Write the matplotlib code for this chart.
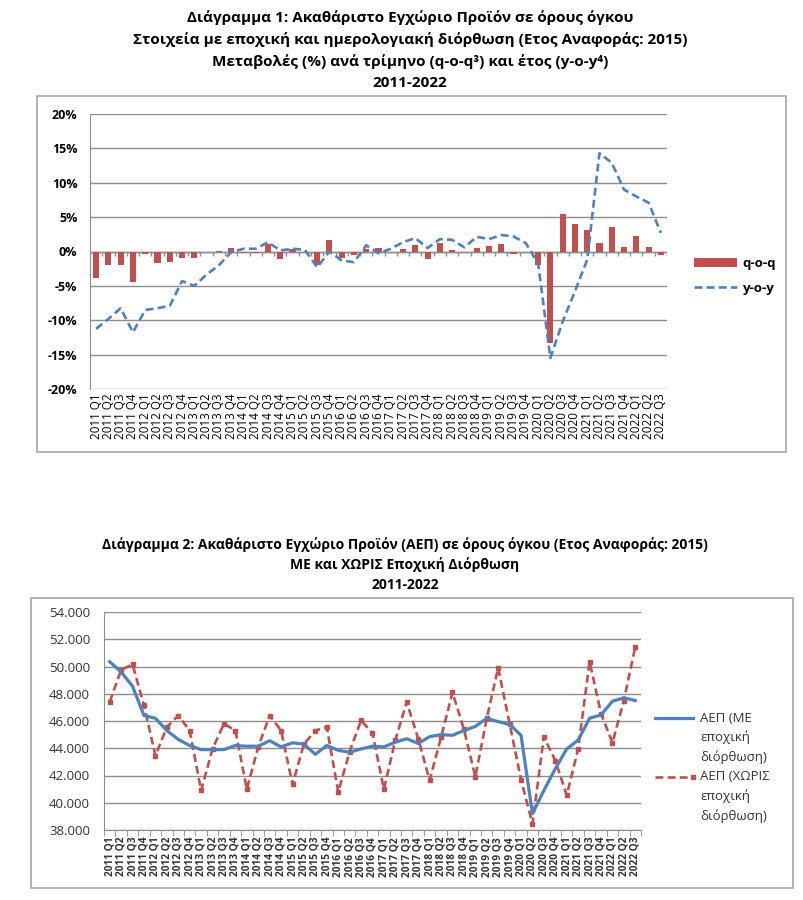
import matplotlib
matplotlib.use('Agg')
import matplotlib.pyplot as plt
from matplotlib.patches import Rectangle
from matplotlib.lines import Line2D
import numpy as np

plt.rcParams['font.family'] = ['Open Sans', 'DejaVu Sans']

# Τρίμηνα 2011 Q1 - 2022 Q3
quarters = [f'{y} Q{q}' for y in range(2011, 2023) for q in range(1, 5)][:47]

# Διάγραμμα 1: μεταβολές (%)
qoq = [-3.9, -1.9, -2.0, -4.5, -0.4, -1.7, -1.55, -0.9, -0.9, -0.1, 0.05, 0.5,
       -0.2, -0.2, 1.1, -1.1, 0.3, -0.1, -2.0, 1.7, -0.9, -0.5, 0.35, 0.55,
       -0.05, 0.35, 1.0, -1.1, 1.2, 0.15, -0.05, 0.55, 0.8, 1.1, -0.35, -0.1,
       -1.9, -13.25, 5.4, 4.0, 3.1, 1.3, 3.5, 0.6, 2.3, 0.6, -0.5]
yoy = [-11.25, -9.8, -8.25, -11.75, -8.5, -8.25, -7.9, -4.3, -5.0, -3.35, -2.0, -0.1,
       0.4, 0.4, 1.35, 0.15, 0.4, 0.25, -2.3, 0.0, -1.3, -1.55, 0.9, -0.25,
       0.4, 1.35, 1.95, 0.5, 1.8, 1.7, 0.6, 2.15, 1.8, 2.4, 2.2, 1.2,
       -1.7, -15.5, -10.2, -5.8, -1.2, 14.3, 12.9, 9.0, 8.0, 7.1, 2.7]

# Διάγραμμα 2: ΑΕΠ (σε χιλιάδες)
gdp_sa = [50.35, 49.6, 48.55, 46.4, 46.2, 45.3, 44.65, 44.2, 43.9, 43.9, 43.9, 44.2,
          44.15, 44.15, 44.55, 44.1, 44.4, 44.3, 43.55, 44.2, 43.85, 43.7, 43.95, 44.15,
          44.1, 44.45, 44.7, 44.35, 44.85, 45.0, 44.95, 45.3, 45.6, 46.2, 45.95, 45.75,
          44.95, 39.2, 40.9, 42.5, 43.95, 44.6, 46.2, 46.45, 47.45, 47.7, 47.5]
gdp_nsa = [47.4, 49.75, 50.15, 47.15, 43.45, 45.55, 46.4, 45.3, 40.9, 43.95, 45.8, 45.3,
           41.0, 44.1, 46.4, 45.3, 41.35, 44.3, 45.3, 45.55, 40.8, 43.75, 46.05, 45.1,
           41.0, 44.6, 47.4, 44.7, 41.65, 44.8, 48.1, 45.4, 41.9, 46.2, 49.9, 45.8,
           41.7, 38.45, 44.85, 43.1, 40.55, 43.95, 50.35, 46.55, 44.4, 47.5, 51.45]
legend2 = [['ΑΕΠ (ΜΕ', 'εποχική', 'διόρθωση)'], ['ΑΕΠ (ΧΩΡΙΣ', 'εποχική', 'διόρθωση)']]

red = '#C0504D'
blue = '#4F81BD'
grid = '#8C8C8C'
dash = (0, (3, 1.6))
x = np.arange(len(quarters))

fig = plt.figure(figsize=(8.04, 9.0), dpi=100)

def px(l, t, r, b):
    return [l / 804, 1 - b / 900, (r - l) / 804, (b - t) / 900]

# πλαίσια
for l, t, r, b in [(37, 96, 786, 452), (31, 598, 793, 888)]:
    fig.patches.append(Rectangle((l / 804, 1 - b / 900), (r - l) / 804, (b - t) / 900,
                                 transform=fig.transFigure, fill=False,
                                 edgecolor='#A6A6A6', linewidth=1.2))

# ---------- Διάγραμμα 1 ----------
titles1 = ['Διάγραμμα 1: Ακαθάριστο Εγχώριο Προϊόν σε όρους όγκου',
           'Στοιχεία με εποχική και ημερολογιακή διόρθωση (Ετος Αναφοράς: 2015)',
           'Μεταβολές (%) ανά τρίμηνο (q-o-q³) και έτος (y-o-y⁴)',
           '2011-2022']
for i, s in enumerate(titles1):
    fig.text(410 / 804, 1 - (18 + 21.7 * i) / 900, s, ha='center', va='center',
             fontsize=11, fontweight='bold')

ax1 = fig.add_axes(px(90, 114, 667, 389))
bars = ax1.bar(x, qoq, width=0.5, color=red, label='q-o-q', zorder=3)
line, = ax1.plot(x, yoy, color=blue, linestyle=dash, linewidth=1.9, label='y-o-y', zorder=4)
ax1.set_xlim(-0.5, len(x) - 0.5)
ax1.set_ylim(-20, 20)
ax1.set_yticks(np.arange(-20, 21, 5))
ax1.set_yticklabels([f'{v}%' for v in range(-20, 21, 5)], fontweight='bold', fontsize=9)
ax1.yaxis.grid(True, color=grid, linewidth=1)
ax1.set_axisbelow(True)
ax1.axhline(0, color=grid, linewidth=1, zorder=2)
ax1.vlines(np.arange(len(x) + 1) - 0.5, -0.6, 0, color=grid, linewidth=1, zorder=2)
ax1.set_xticks(x)
ax1.set_xticklabels(quarters, rotation=90, fontsize=8.4)
ax1.tick_params(axis='x', length=0, pad=3)
ax1.tick_params(axis='y', length=0, pad=9)
for sp in ['top', 'right', 'bottom']:
    ax1.spines[sp].set_visible(False)
ax1.spines['left'].set_color(grid)
ax1.legend([bars, line], ['q-o-q', 'y-o-y'], loc='center left',
           bbox_to_anchor=(682 / 804, 1 - 276 / 900),
           bbox_transform=fig.transFigure, frameon=False, handlelength=3.3,
           prop={'weight': 'bold', 'size': 9.5}, labelspacing=0.9, handletextpad=0.4)

# ---------- Διάγραμμα 2 ----------
titles2 = ['Διάγραμμα 2: Ακαθάριστο Εγχώριο Προϊόν (ΑΕΠ) σε όρους όγκου (Ετος Αναφοράς: 2015)',
           'ΜΕ και ΧΩΡΙΣ Εποχική Διόρθωση',
           '2011-2022']
for i, s in enumerate(titles2):
    fig.text(405 / 804, 1 - (545 + 20 * i) / 900, s, ha='center', va='center',
             fontsize=10, fontweight='bold')

ax2 = fig.add_axes(px(104, 612, 641, 830))
ax2.plot(x, gdp_sa, color=blue, linewidth=2.3, zorder=4)
ax2.plot(x, gdp_nsa, color=red, linestyle=dash, linewidth=1.9,
         marker='s', markersize=3, zorder=3)
ax2.set_xlim(-0.5, len(x) - 0.5)
ax2.set_ylim(38, 54)
yt = np.arange(38, 55, 2)
ax2.set_yticks(yt)
ax2.set_yticklabels([f'{v}.000' for v in yt], fontsize=9.5, color='#333333')
ax2.yaxis.grid(True, color=grid, linewidth=1)
ax2.set_axisbelow(True)
ax2.set_xticks(x)
ax2.set_xticklabels(quarters, rotation=90, fontsize=7.3, fontweight='bold', color='#333333')
ax2.set_xticks(np.arange(len(x) + 1) - 0.5, minor=True)
ax2.tick_params(axis='x', which='major', length=0, pad=5)
ax2.tick_params(axis='x', which='minor', length=4, color=grid)
ax2.tick_params(axis='y', length=0, pad=10)
for sp in ['top', 'right']:
    ax2.spines[sp].set_visible(False)
ax2.spines['left'].set_color(grid)
ax2.spines['bottom'].set_color(grid)

# υπόμνημα διαγράμματος 2 (γραμμή δίπλα στην πρώτη σειρά κειμένου)
styles = [dict(color=blue, linewidth=2.3),
          dict(color=red, linewidth=1.9, linestyle=dash, marker='s', markersize=3, markevery=[1])]
for k, (lines, st) in enumerate(zip(legend2, styles)):
    y0 = 718 + 59 * k
    fig.add_artist(Line2D([655 / 804, 693 / 804], [1 - y0 / 900] * 2,
                          transform=fig.transFigure, **st))
    for j, s in enumerate(lines):
        fig.text(700 / 804, 1 - (y0 + 19.5 * j) / 900, s, ha='left', va='center',
                 fontsize=9.5, color='#333333')

fig.savefig('out.png', dpi=100)
